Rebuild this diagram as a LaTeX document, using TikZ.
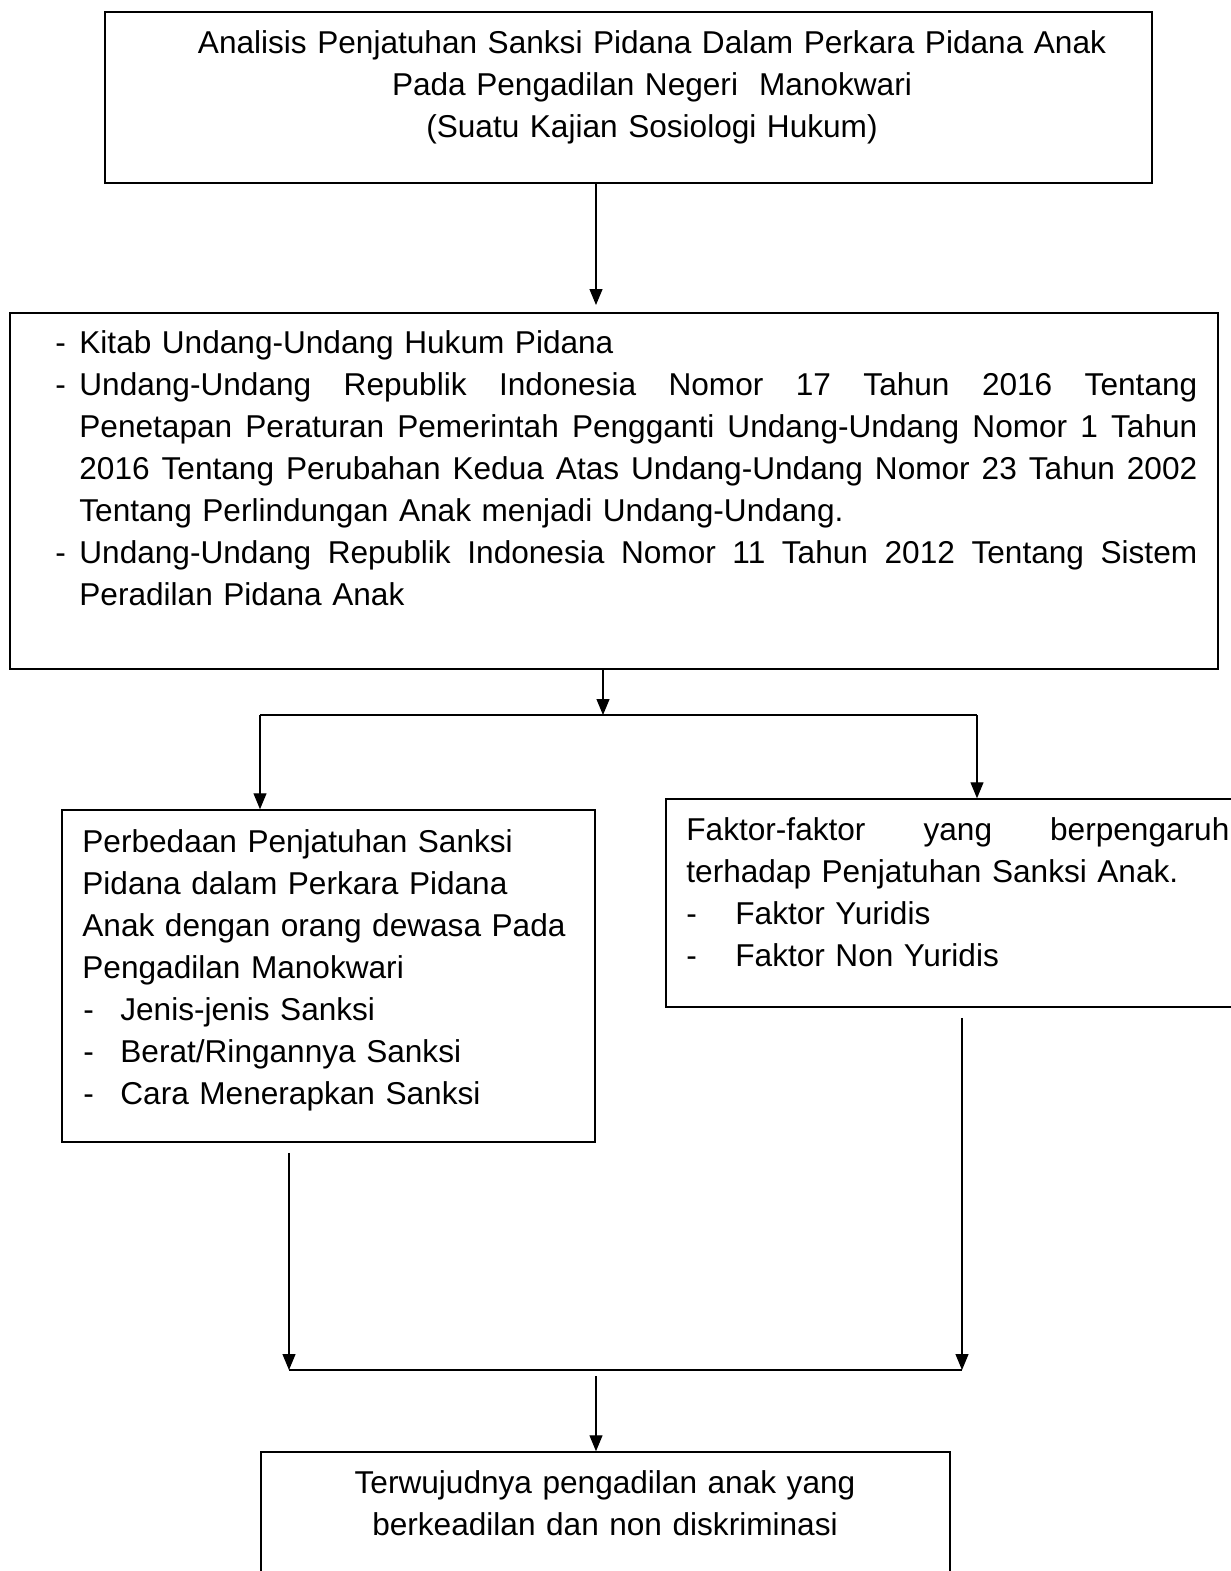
\documentclass[tikz,border=0pt]{standalone}
\usepackage{fontspec}
\setmainfont{Liberation Sans}
\usetikzlibrary{arrows.meta,fit}
\newcommand{\jstretch}[2]{\hbox to #1{\spaceskip=\fontdimen2\font plus 1fil\relax #2}}
\begin{document}
\begin{tikzpicture}[x=0.5pt,y=-0.5pt,
  box/.style={draw=black, line width=0.75pt, inner sep=0pt, rectangle},
  txt/.style={inner sep=0pt, font=\fontsize{15.8}{21}\selectfont, anchor=north west, align=left, text width=#1},
  ctxt/.style={inner sep=0pt, font=\fontsize{15.8}{21}\selectfont, anchor=north, align=center, text width=#1},
  arr/.style={line width=0.6pt, -{Triangle[length=8pt,width=6.5pt]}},
  bar/.style={line width=1pt}]
\useasboundingbox (0,0) rectangle (1231,1571);

% boxes
\coordinate (b1a) at (105,12);  \coordinate (b1b) at (1152,183);
\node[box, fit=(b1a)(b1b)] (b1) {};
\coordinate (b2a) at (10,313);  \coordinate (b2b) at (1218,669);
\node[box, fit=(b2a)(b2b)] (b2) {};
\coordinate (b3a) at (62,810);  \coordinate (b3b) at (595,1142);
\node[box, fit=(b3a)(b3b)] (b3) {};
\coordinate (b4a) at (666,799); \coordinate (b4b) at (1245,1007);
\node[box, fit=(b4a)(b4b)] (b4) {};
\coordinate (b5a) at (261,1452); \coordinate (b5b) at (950,1595);
\node[box, fit=(b5a)(b5b)] (b5) {};

% texts
\node[ctxt=520pt] (t1) at (652,23.6) {\strut Analisis Penjatuhan Sanksi Pidana Dalam Perkara Pidana Anak\\
Pada Pengadilan Negeri~ Manokwari\\
(Suatu Kajian Sosiologi Hukum)};

\node[txt=590pt] (t2) at (55,323.6) {\strut\makebox[12pt][l]{-}Kitab Undang-Undang Hukum Pidana\\
\makebox[12pt][l]{-}\jstretch{559pt}{Undang-Undang Republik Indonesia Nomor 17 Tahun 2016 Tentang}\\
\hspace*{12pt}\jstretch{559pt}{Penetapan Peraturan Pemerintah Pengganti Undang-Undang Nomor 1 Tahun}\\
\hspace*{12pt}\jstretch{559pt}{2016 Tentang Perubahan Kedua Atas Undang-Undang Nomor 23 Tahun 2002}\\
\hspace*{12pt}Tentang Perlindungan Anak menjadi Undang-Undang.\\
\makebox[12pt][l]{-}\jstretch{559pt}{Undang-Undang Republik Indonesia Nomor 11 Tahun 2012 Tentang Sistem}\\
\hspace*{12pt}Peradilan Pidana Anak};

\node[txt=250pt] (t3) at (82,822.6) {\strut Perbedaan Penjatuhan Sanksi\\
Pidana dalam Perkara Pidana\\
Anak dengan orang dewasa Pada\\
Pengadilan Manokwari\\
\makebox[19pt][l]{\hspace{0.5pt}-}Jenis-jenis Sanksi\\
\makebox[19pt][l]{\hspace{0.5pt}-}Berat/Ringannya Sanksi\\
\makebox[19pt][l]{\hspace{0.5pt}-}Cara Menerapkan Sanksi};

\node[txt=290pt] (t4) at (686,810.6) {\strut\jstretch{271.5pt}{Faktor-faktor yang berpengaruh}\\
terhadap Penjatuhan Sanksi Anak.\\
\makebox[24.5pt][l]{-}Faktor Yuridis\\
\makebox[24.5pt][l]{-}Faktor Non Yuridis};

\node[ctxt=330pt] (t5) at (605,1463.6) {\strut Terwujudnya pengadilan anak yang\\
berkeadilan dan non diskriminasi};

% connectors
\coordinate (a1) at (596,305);
\draw[arr] (b1.south -| a1) -- (a1);

\coordinate (j1) at (603,715);
\coordinate (jl) at (260,715);
\coordinate (jr) at (977,715);
\draw[arr] (b2.south -| j1) -- (j1);
\draw[bar] (jl) -- (jr);
\draw[arr] (jl) -- (b3.north -| jl);
\draw[arr] (jr) -- (b4.north -| jr);

\coordinate (kl) at (289,1370);
\coordinate (kr) at (962,1370);
\coordinate (k1) at (596,1376);
\draw[arr, shorten <=5pt] (b3.south -| kl) -- (kl);
\draw[arr, shorten <=5pt] (b4.south -| kr) -- (kr);
\draw[bar] (kl) -- (kr);
\draw[arr] (k1) -- (b5.north -| k1);
\end{tikzpicture}
\end{document}
